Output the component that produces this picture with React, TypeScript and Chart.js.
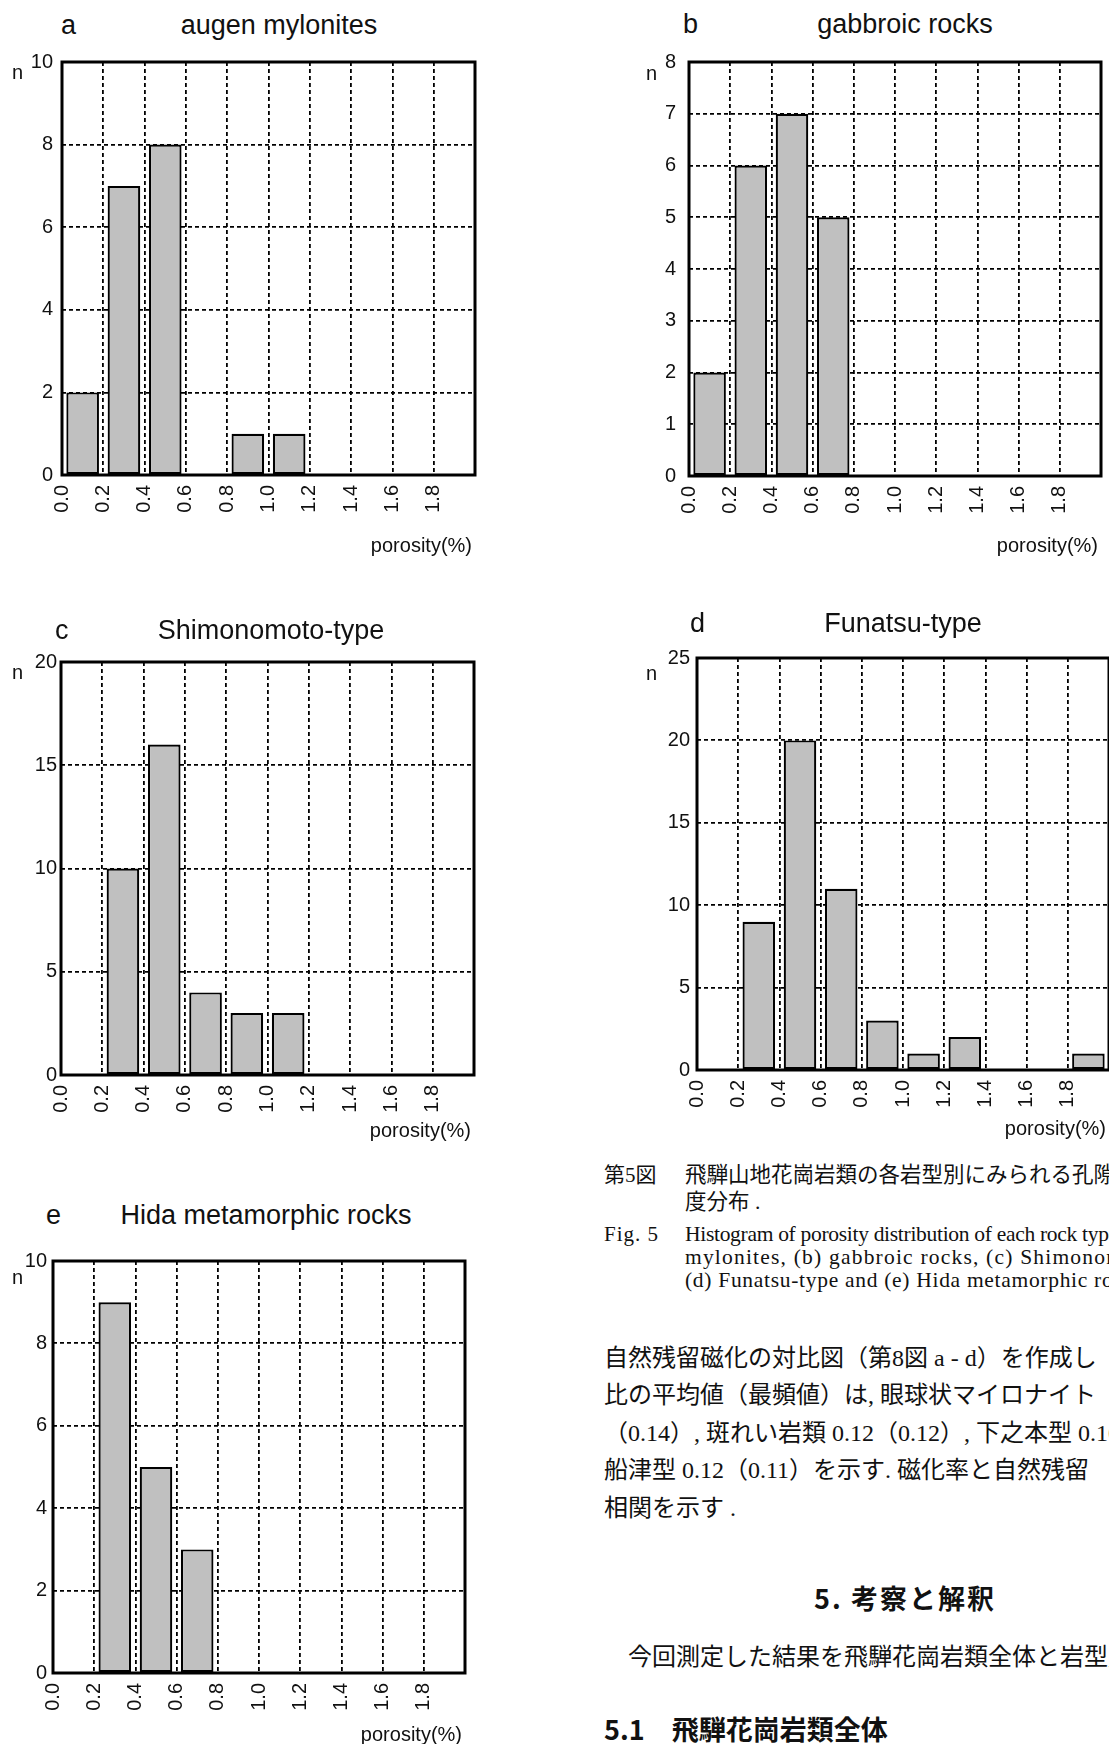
import React, { useEffect, useRef } from "react";
import { Chart, registerables } from "chart.js";

Chart.register(...registerables);

// ---------- data ----------
const binStarts = [0.0, 0.2, 0.4, 0.6, 0.8, 1.0, 1.2, 1.4, 1.6, 1.8];
const binWidth = 0.2;
const xTickLabels = ["0.0", "0.2", "0.4", "0.6", "0.8", "1.0", "1.2", "1.4", "1.6", "1.8", ""];

const augenCounts = [2, 7, 8, 0, 1, 1, 0, 0, 0, 0];
const gabbroCounts = [2, 6, 7, 5, 0, 0, 0, 0, 0, 0];
const shimonomotoCounts = [0, 10, 16, 4, 3, 3, 0, 0, 0, 0];
const funatsuCounts = [0, 9, 20, 11, 3, 1, 2, 0, 0, 1];
const hidaCounts = [0, 9, 5, 3, 0, 0, 0, 0, 0, 0];

const panelLetters = ["a", "b", "c", "d", "e"];
const panelTitles = ["augen mylonites", "gabbroic rocks", "Shimonomoto-type", "Funatsu-type", "Hida metamorphic rocks"];
const yMaxes = [10, 8, 20, 25, 10];
const ySteps = [2, 1, 5, 5, 2];
const yAxisLabel = "n";
const xAxisLabel = "porosity(%)";

// ---------- layout (positions / styles only) ----------
const layouts = [
  { l: 62, t: 62, w: 413, h: 413, letterX: 61, titleCX: 279, titleY: 25, nX: 12, nY: 72, poroY: 545, yPad: 9 },
  { l: 689, t: 62, w: 412, h: 414, letterX: 683, titleCX: 905, titleY: 24, nX: 646, nY: 73, poroY: 545, yPad: 13 },
  { l: 61, t: 662, w: 413, h: 413, letterX: 55, titleCX: 271, titleY: 630, nX: 12, nY: 672, poroY: 1130, yPad: 4 },
  { l: 697, t: 658, w: 412, h: 412, letterX: 690, titleCX: 903, titleY: 623, nX: 646, nY: 673, poroY: 1128, yPad: 7 },
  { l: 53, t: 1261, w: 412, h: 412, letterX: 46, titleCX: 266, titleY: 1215, nX: 12, nY: 1277, poroY: 1734, yPad: 6 },
];
const allCounts = [augenCounts, gabbroCounts, shimonomotoCounts, funatsuCounts, hidaCounts];

const ML = 70, MT = 16, MR = 12, MB = 62;
const SANS = '"Liberation Sans", Arial, Helvetica, sans-serif';
const SERIF_JP = '"Liberation Serif", "Noto Sans CJK JP", serif';
const GOTHIC = '"Noto Sans CJK JP", "Liberation Sans", sans-serif';

const framePlugin = {
  id: "frame",
  afterDatasetsDraw(chart: any) {
    const { ctx, chartArea: a } = chart;
    ctx.save();
    ctx.strokeStyle = "#000";
    ctx.lineWidth = 3;
    ctx.strokeRect(a.left, a.top, a.right - a.left, a.bottom - a.top);
    ctx.restore();
  },
};

function Histogram({ idx }: { idx: number }) {
  const ref = useRef<HTMLCanvasElement>(null);
  const L = layouts[idx];
  const W = L.w + ML + MR;
  const H = L.h + MT + MB;
  useEffect(() => {
    if (!ref.current) return;
    const counts = allCounts[idx];
    const data = counts.map((c, i) => ({ x: binStarts[i] + binWidth / 2, y: c === 0 ? null : c }));
    const chart = new Chart(ref.current, {
      type: "bar",
      data: {
        datasets: [
          {
            data: data as any,
            backgroundColor: "#c0c0c0",
            borderColor: "#000",
            borderWidth: 2.2,
            borderSkipped: false,
            barPercentage: 0.79,
            categoryPercentage: 1,
          } as any,
        ],
      },
      plugins: [framePlugin],
      options: {
        responsive: false,
        animation: false,
        events: [],
        layout: { padding: { left: 0, top: MT, right: MR, bottom: 0 } },
        plugins: { legend: { display: false }, tooltip: { enabled: false }, title: { display: false } },
        scales: {
          x: {
            type: "linear",
            min: 0,
            max: 2,
            offset: false,
            afterFit: (s: any) => {
              s.height = MB;
              s.paddingLeft = 0;
              s.paddingRight = 0;
            },
            ticks: {
              stepSize: 0.2,
              autoSkip: false,
              minRotation: 90,
              maxRotation: 90,
              padding: 10,
              color: "#111",
              font: { family: SANS, size: 20 },
              callback: (_v: any, i: number) => xTickLabels[i] ?? "",
            },
            grid: { color: "#000", lineWidth: 1.8, drawTicks: false, offset: false },
            border: { display: false, dash: [4, 3] },
          },
          y: {
            type: "linear",
            min: 0,
            max: yMaxes[idx],
            afterFit: (s: any) => {
              s.width = ML;
              s.paddingTop = 0;
              s.paddingBottom = 0;
            },
            ticks: {
              stepSize: ySteps[idx],
              padding: L.yPad,
              color: "#111",
              font: { family: SANS, size: 20 },
            },
            grid: { color: "#000", lineWidth: 1.8, drawTicks: false },
            border: { display: false, dash: [4, 3] },
          },
        },
      } as any,
    });
    return () => chart.destroy();
  }, [idx]);
  return (
    <canvas
      ref={ref}
      width={W}
      height={H}
      style={{ position: "absolute", left: L.l - ML, top: L.t - MT, width: W, height: H }}
    />
  );
}

type TxtProps = {
  x: number; y: number; size: number; children: React.ReactNode;
  family?: string; weight?: number; align?: "left" | "center" | "right"; ls?: number;
};
function Txt({ x, y, size, children, family = SANS, weight = 400, align = "left", ls = 0 }: TxtProps) {
  const h = Math.round(size * 1.3);
  const style: React.CSSProperties = {
    position: "absolute",
    top: y - h / 2,
    height: h,
    lineHeight: h + "px",
    fontSize: size,
    fontFamily: family,
    fontWeight: weight,
    whiteSpace: "nowrap",
    color: "#111",
    letterSpacing: ls,
  };
  if (align === "left") style.left = x;
  else if (align === "center") { style.left = x - 400; style.width = 800; style.textAlign = "center"; }
  else { style.left = x - 800; style.width = 800; style.textAlign = "right"; }
  return <div style={style}>{children}</div>;
}

export default function App() {
  return (
    <div style={{ position: "fixed", left: 0, top: 0, width: 1109, height: 1744, overflow: "hidden", background: "#fff" }}>
      {layouts.map((L, i) => (
        <React.Fragment key={i}>
          <Histogram idx={i} />
          <Txt x={L.letterX} y={L.titleY} size={27}>{panelLetters[i]}</Txt>
          <Txt x={L.titleCX} y={L.titleY} size={27} align="center">{panelTitles[i]}</Txt>
          <Txt x={L.nX} y={L.nY} size={20}>{yAxisLabel}</Txt>
          <Txt x={L.l + L.w - 3} y={L.poroY} size={20} align="right">{xAxisLabel}</Txt>
        </React.Fragment>
      ))}

      {/* caption */}
      <Txt x={604} y={1175} size={21} family={SERIF_JP}>第5図</Txt>
      <Txt x={685} y={1175} size={21.5} family={SERIF_JP}>飛騨山地花崗岩類の各岩型別にみられる孔隙率の頻</Txt>
      <Txt x={685} y={1202} size={21.5} family={SERIF_JP}>度分布 .</Txt>
      <Txt x={604} y={1234} size={21} family={SERIF_JP} ls={1}>Fig. 5</Txt>
      <Txt x={685} y={1234} size={21.5} family={SERIF_JP} ls={-0.3}>Histogram of porosity distribution of each rock type</Txt>
      <Txt x={685} y={1257} size={21.5} family={SERIF_JP} ls={1.2}>mylonites, (b) gabbroic rocks, (c) Shimonomoto-type,</Txt>
      <Txt x={685} y={1280} size={21.5} family={SERIF_JP} ls={0.7}>(d) Funatsu-type and (e) Hida metamorphic rocks.</Txt>

      {/* body text */}
      <Txt x={604} y={1358} size={24} family={SERIF_JP}>自然残留磁化の対比図（第8図 a - d）を作成し</Txt>
      <Txt x={604} y={1395.5} size={24} family={SERIF_JP}>比の平均値（最頻値）は, 眼球状マイロナイト</Txt>
      <Txt x={604} y={1433} size={24} family={SERIF_JP}>（0.14）, 斑れい岩類 0.12（0.12）, 下之本型 0.10</Txt>
      <Txt x={604} y={1470.5} size={24} family={SERIF_JP}>船津型 0.12（0.11）を示す. 磁化率と自然残留</Txt>
      <Txt x={604} y={1508} size={24} family={SERIF_JP}>相関を示す .</Txt>

      <Txt x={905} y={1597} size={27} family={GOTHIC} weight={700} align="center" ls={2}>5. 考察と解釈</Txt>
      <Txt x={628} y={1657} size={24} family={SERIF_JP}>今回測定した結果を飛騨花崗岩類全体と岩型別</Txt>
      <Txt x={604} y={1728} size={27} family={GOTHIC} weight={700}>5.1　飛騨花崗岩類全体</Txt>
    </div>
  );
}
